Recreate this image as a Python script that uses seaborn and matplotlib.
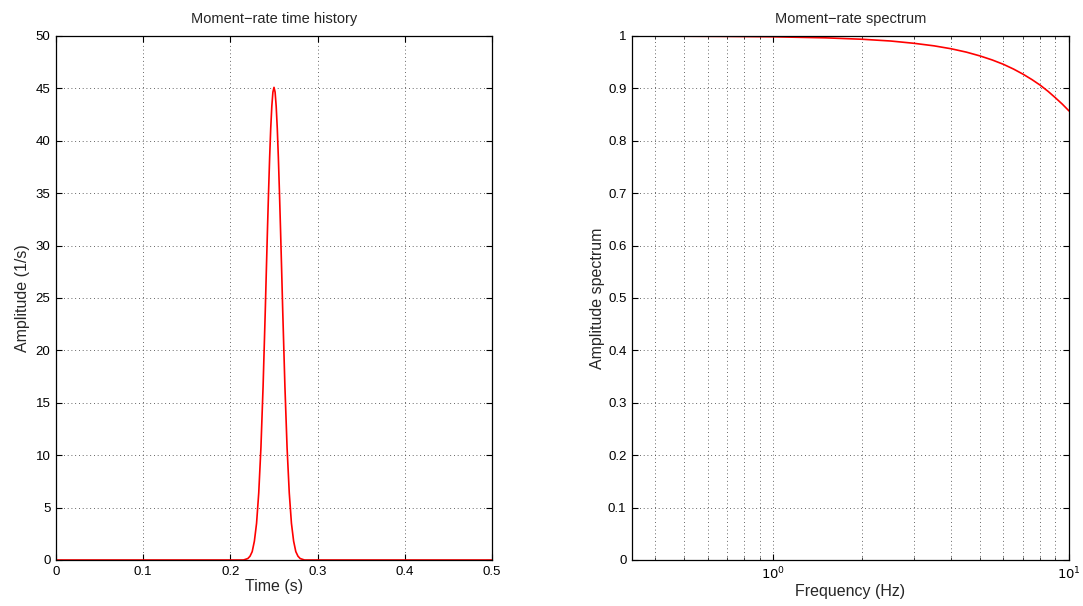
import numpy as np
import pandas as pd
import matplotlib
matplotlib.use("Agg")
import matplotlib.pyplot as plt
from matplotlib.ticker import NullFormatter, FixedLocator
import seaborn as sns

# ---- data ----
time_s = [0.0, 0.215, 0.22, 0.2225, 0.225, 0.2275, 0.23, 0.2325, 0.235, 0.2375,
          0.24, 0.24125, 0.2425, 0.24375, 0.245, 0.24625, 0.2475, 0.24875, 0.25,
          0.25125, 0.2525, 0.25375, 0.255, 0.25625, 0.2575, 0.25875, 0.26,
          0.2625, 0.265, 0.2675, 0.27, 0.2725, 0.275, 0.2775, 0.28, 0.285, 0.5]
amplitude = [0.0, 0.0, 0.14, 0.36, 0.8, 1.8, 3.5, 6.4, 10.7, 16.6,
             23.8, 27.7, 31.5, 35.1, 38.4, 41.2, 43.3, 44.65, 45.1,
             44.65, 43.3, 41.2, 38.4, 35.1, 31.5, 27.7, 23.8,
             16.6, 10.7, 6.4, 3.5, 1.8, 0.8, 0.36, 0.14, 0.0, 0.0]

freq_hz = [0.3333, 0.5, 0.7, 1.0, 1.5, 2.0, 2.5, 3.0, 3.5, 4.0, 4.5, 5.0,
           5.5, 6.0, 6.5, 7.0, 7.5, 8.0, 8.5, 9.0, 9.5, 10.0]
spectrum = [1.0, 0.9996, 0.9992, 0.9985, 0.9965, 0.9938, 0.9904, 0.986,
            0.9812, 0.9756, 0.9692, 0.962, 0.9543, 0.946, 0.9368, 0.927,
            0.9167, 0.906, 0.8943, 0.882, 0.8698, 0.857]

left_xticks = [0, 0.1, 0.2, 0.3, 0.4, 0.5]
left_xlabels = ["0", "0.1", "0.2", "0.3", "0.4", "0.5"]
left_yticks = list(range(0, 51, 5))
right_yticks = [0, 0.1, 0.2, 0.3, 0.4, 0.5, 0.6, 0.7, 0.8, 0.9, 1.0]
right_ylabels = ["0", "0.1", "0.2", "0.3", "0.4", "0.5", "0.6", "0.7", "0.8", "0.9", "1"]
minor_freqs = [0.4, 0.5, 0.6, 0.7, 0.8, 0.9, 2, 3, 4, 5, 6, 7, 8, 9]

sns.set_style("white")
plt.rcParams["font.family"] = ["Liberation Sans", "DejaVu Sans"]
plt.rcParams["axes.unicode_minus"] = True

fig = plt.figure(figsize=(10.83, 6.06), dpi=100)
ax1 = fig.add_axes([56 / 1083, 46 / 606, 436 / 1083, 524 / 606])
ax2 = fig.add_axes([632 / 1083, 46 / 606, 437 / 1083, 524 / 606])

df1 = pd.DataFrame({"t": time_s, "a": amplitude})
df2 = pd.DataFrame({"f": freq_hz, "s": spectrum})

sns.lineplot(data=df1, x="t", y="a", ax=ax1, color="red", linewidth=1.2, sort=False)
sns.lineplot(data=df2, x="f", y="s", ax=ax2, color="red", linewidth=1.2, sort=False)

grid_kw = dict(color="#333333", linestyle=(0, (1, 3.5)), linewidth=0.6)

# left axes
ax1.set_xlim(0, 0.5)
ax1.set_ylim(0, 50)
ax1.set_xticks(left_xticks)
ax1.set_xticklabels(left_xlabels)
ax1.set_yticks(left_yticks)
ax1.grid(True, **grid_kw)
ax1.set_title("Moment\u2212rate time history", fontsize=10.5, pad=9)
ax1.set_xlabel("Time (s)", fontsize=11.5, labelpad=1)
ax1.set_ylabel("Amplitude (1/s)", fontsize=11.5, labelpad=4)

# right axes
ax2.set_xscale("log")
ax2.set_xlim(0.3333, 10)
ax2.set_ylim(0, 1)
ax2.xaxis.set_major_locator(FixedLocator([1, 10]))
ax2.set_xticklabels([r"$10^{0}$", r"$10^{1}$"])
ax2.xaxis.set_minor_locator(FixedLocator(minor_freqs))
ax2.xaxis.set_minor_formatter(NullFormatter())
ax2.set_yticks(right_yticks)
ax2.set_yticklabels(right_ylabels)
ax2.grid(True, which="both", **grid_kw)
ax2.set_title("Moment\u2212rate spectrum", fontsize=10.5, pad=9)
ax2.set_xlabel("Frequency (Hz)", fontsize=11.5, labelpad=1)
ax2.set_ylabel("Amplitude spectrum", fontsize=11.5, labelpad=2)

for ax in (ax1, ax2):
    ax.set_axisbelow(True)
    for sp in ax.spines.values():
        sp.set_visible(True)
        sp.set_color("black")
        sp.set_linewidth(0.9)
    ax.tick_params(which="major", direction="in", length=4, width=0.8,
                   top=True, right=True, bottom=True, left=True,
                   labelsize=9.5, colors="black", pad=4)
    ax.tick_params(which="minor", direction="in", length=2.5, width=0.6,
                   top=True, bottom=True)
    ax.set_facecolor("white")

fig.savefig("out.png", dpi=100, facecolor="white")
